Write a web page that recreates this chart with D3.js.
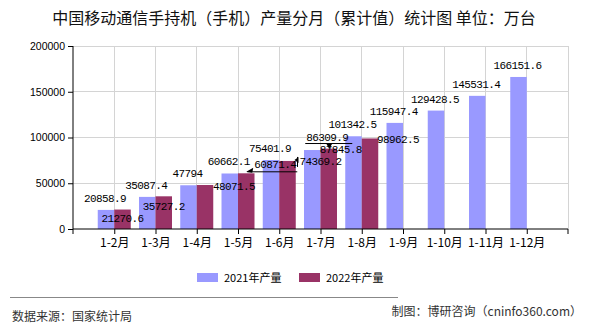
<!DOCTYPE html>
<html><head><meta charset="utf-8">
<script src="https://cdn.jsdelivr.net/npm/d3@7"></script>
<style>
html,body{margin:0;padding:0;background:#fff;}
svg{display:block;}
</style></head>
<body>
<svg id="chart" width="590" height="330"></svg>
<script>
const categories = ["1-2月","1-3月","1-4月","1-5月","1-6月","1-7月","1-8月","1-9月","1-10月","1-11月","1-12月"];
const values2021 = [20858.9,35087.4,47794,60662.1,75401.9,86309.9,101342.5,115947.4,129428.5,145531.4,166151.6];
const values2022 = [21270.6,35727.2,48071.5,60871.4,74369.2,87845.8,98962.5];
const labels2021 = ["20858.9","35087.4","47794","60662.1","75401.9","86309.9","101342.5","115947.4","129428.5","145531.4","166151.6"];
const labels2022 = ["21270.6","35727.2","48071.5","60871.4","74369.2","87845.8","98962.5"];
const seriesNames = ["2021年产量","2022年产量"];
const yTicks = [0,50000,100000,150000,200000];
const titleText = "中国移动通信手持机（手机）产量分月（累计值）统计图 单位：万台";
const sourceText = "数据来源：国家统计局";
const creditText = "制图：博研咨询（cninfo360.com）";

// label placement (layout only)
const place2021 = labels2021.map((d,i)=> i===5 ? {a:"middle",dx:15,dy:-9,note:"under"} : {a:"middle",dx:-1,dy:-8});
const place2022 = [
  {a:"middle",dx:0,dy:12.5},
  {a:"middle",dx:0,dy:14},
  {a:"start",dx:8,dy:5},
  {a:"start",dx:8,dy:-5,note:"leader"},
  {a:"start",dx:12,dy:4,note:"vbar"},
  {a:"start",dx:-9,dy:4.5},
  {a:"start",dx:7,dy:4.5}
];

const colors = ["#9999ff","#993366"];
const svg = d3.select("#chart");
const L=73,R=568,T=46,B=229;
const cjk = "'Noto Sans CJK SC','Noto Sans',sans-serif";

const x = d3.scalePoint().domain(categories).range([L,R]).padding(1);
const xs = d3.scaleBand().domain(seriesNames).range([-16.5,16.5]).paddingInner(0);
const y = d3.scaleLinear().domain([0,200000]).range([B,T]);

// title
svg.append("text").attr("x",294).attr("y",24).attr("text-anchor","middle")
  .style("font-family",cjk).style("font-size","16px").style("font-weight","400").attr("fill","#111").text(titleText);

// grid
const grid = svg.append("g").attr("stroke","#d4d4d4").attr("stroke-width",1).attr("shape-rendering","crispEdges");
yTicks.filter(t=>t>0).forEach(t=>grid.append("line").attr("x1",L).attr("x2",R).attr("y1",y(t)).attr("y2",y(t)));
categories.forEach(c=>grid.append("line").attr("x1",x(c)).attr("x2",x(c)).attr("y1",T).attr("y2",B));
grid.append("line").attr("x1",R).attr("x2",R).attr("y1",T).attr("y2",B);

// bars
const allSeries = [values2021, values2022];
allSeries.forEach((vals,si)=>{
  svg.append("g").selectAll("rect").data(vals).join("rect")
    .attr("x",(d,i)=>x(categories[i])+xs(seriesNames[si]))
    .attr("width",xs.bandwidth())
    .attr("y",d=>y(d))
    .attr("height",d=>B-y(d))
    .attr("fill",colors[si]);
});

// axes
const yAxis = svg.append("g").attr("transform",`translate(${L},0)`)
  .call(d3.axisLeft(y).tickValues(yTicks).tickSize(5).tickFormat(d3.format("d")));
yAxis.select(".domain").attr("stroke","#000").attr("d",`M0,${T}V${B}`);
yAxis.selectAll(".tick line").attr("stroke","#000");
yAxis.selectAll("text").style("font-family","'Liberation Sans',Arial,sans-serif").style("font-size","10.5px").attr("fill","#000").attr("x",-8);

const xAxis = svg.append("g").attr("transform",`translate(0,${B})`)
  .call(d3.axisBottom(x).tickSize(5).tickSizeOuter(0));
xAxis.select(".domain").attr("stroke","#000").attr("d",`M${L},0H${R}`);
xAxis.selectAll(".tick line").attr("stroke","#000");
xAxis.selectAll("text").style("font-family",cjk).style("font-size","12px").attr("fill","#000").attr("dy",null).attr("y",18);
[L,R].forEach(v=>xAxis.append("line").attr("x1",v).attr("x2",v).attr("y1",0).attr("y2",5).attr("stroke","#000"));

// data labels
const lblFont = "'Liberation Mono','DejaVu Sans Mono',monospace";
const lg = svg.append("g").style("font-family",lblFont).style("font-size","11px").style("letter-spacing","-0.6px").attr("fill","#000");
function drawLabels(vals, texts, places, si){
  vals.forEach((v,i)=>{
    const xc = x(categories[i]) + xs(seriesNames[si]) + xs.bandwidth()/2;
    const yt = y(v);
    const p = places[i];
    const tx = xc + p.dx, ty = yt + p.dy;
    lg.append("text").attr("x",tx).attr("y",ty).attr("text-anchor",p.a).text(texts[i]);
    const w = texts[i].length*6;
    const left = p.a==="middle" ? tx - w/2 : tx;
    if(p.note==="under"){
      lg.append("line").attr("x1",left-1).attr("x2",left+w+4).attr("y1",ty+2.5).attr("y2",ty+2.5).attr("stroke","#000");
      const ax = left + 23;
      lg.append("path").attr("d",`M${ax-3},${ty+2.5}L${ax+3},${ty+2.5}L${ax},${ty+8}Z`).attr("fill","#000");
    }
    if(p.note==="leader"){
      const ly = ty+3.5;
      lg.append("line").attr("x1",left-7).attr("x2",left+43).attr("y1",ly).attr("y2",ly).attr("stroke","#000");
      lg.append("path").attr("d",`M${left-8},${ly}L${left-1},${ly-4}L${left-2},${ly+1}Z`).attr("fill","#000");
    }
    if(p.note==="vbar"){
      const vx = left-2;
      lg.append("line").attr("x1",vx).attr("x2",vx).attr("y1",ty-8).attr("y2",ty+2).attr("stroke","#000");
      lg.append("path").attr("d",`M${vx-3},${ty-5}L${vx+1},${ty-8}L${vx+1},${ty-2}Z`).attr("fill","#000");
    }
  });
}
drawLabels(values2021, labels2021, place2021, 0);
drawLabels(values2022, labels2022, place2022, 1);

// legend
const legX = [197, 299];
seriesNames.forEach((s,i)=>{
  svg.append("rect").attr("x",legX[i]).attr("y",273).attr("width",21).attr("height",9).attr("fill",colors[i]);
  svg.append("text").attr("x",legX[i]+27).attr("y",281.5).style("font-family",cjk).style("font-size","11px").attr("fill","#000").text(s);
});

// footer
svg.append("line").attr("x1",10).attr("x2",398).attr("y1",297.5).attr("y2",297.5).attr("stroke","#888").attr("stroke-width",1);
svg.append("text").attr("x",12).attr("y",321).style("font-family",cjk).style("font-size","12px").attr("fill","#333").text(sourceText);
svg.append("text").attr("x",582).attr("y",316).attr("text-anchor","end").style("font-family",cjk).style("font-size","12px").attr("fill","#333").text(creditText);
</script>
</body></html>
